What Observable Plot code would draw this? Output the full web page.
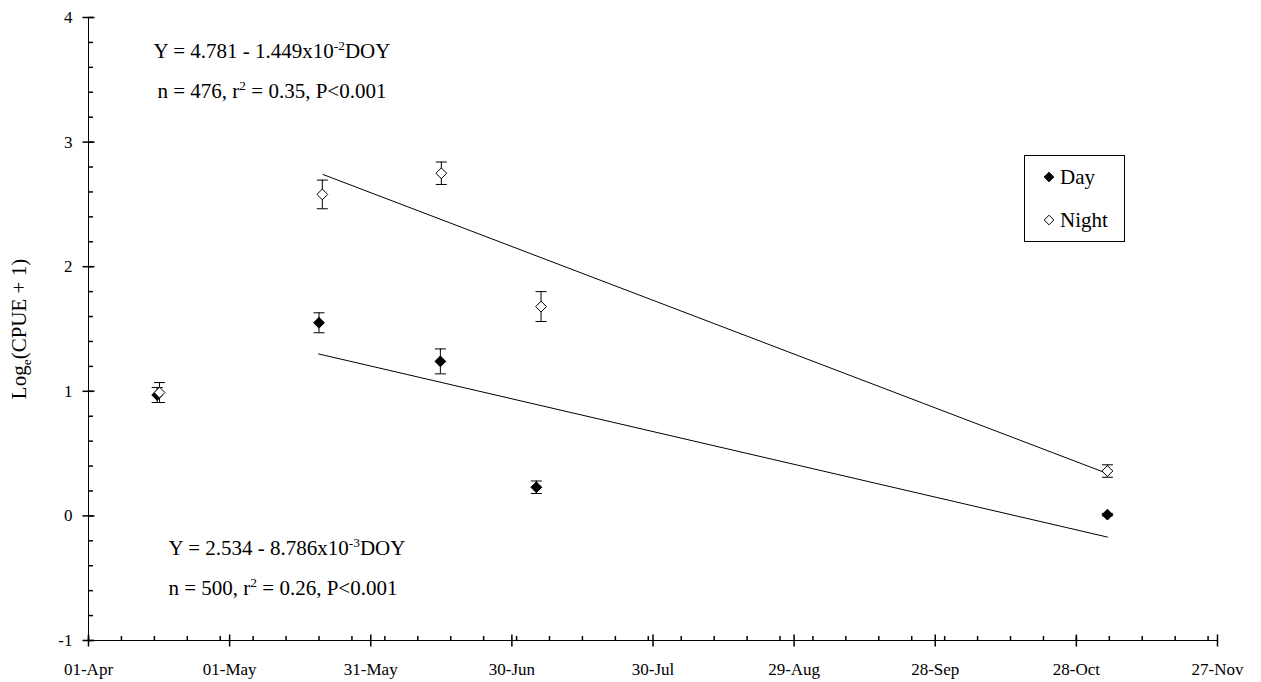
<!DOCTYPE html>
<html><head><meta charset="utf-8">
<script src="https://cdn.jsdelivr.net/npm/d3@7"></script>
<script src="https://cdn.jsdelivr.net/npm/@observablehq/plot@0.6"></script>
<style>html,body{margin:0;padding:0;background:#fff}</style>
</head><body><div id="chart"></div>
<script>
// ---- data (x = day of year) ----
const xTickValues = [91, 121, 151, 181, 211, 241, 271, 301, 331];
const xTickLabels = ["01-Apr", "01-May", "31-May", "30-Jun", "30-Jul", "29-Aug", "28-Sep", "28-Oct", "27-Nov"];
const yTickValues = [-1, 0, 1, 2, 3, 4];
const xMinorStep = 7;
const yMinorStep = 0.2;

const dayDOY = [105.6, 140.0, 165.8, 186.2, 307.6];
const dayMean = [0.97, 1.55, 1.24, 0.23, 0.01];
const daySE = [0.06, 0.08, 0.10, 0.05, 0.01];

const nightDOY = [106.1, 140.7, 166.0, 187.2, 307.6];
const nightMean = [0.99, 2.58, 2.75, 1.68, 0.36];
const nightSE = [0.08, 0.115, 0.09, 0.12, 0.05];

const dayLineDOY = [139.9, 307.6];
const dayLineY = [1.30, -0.17];
const nightLineDOY = [140.85, 307.6];
const nightLineY = [2.74, 0.34];

const nightEq = ["Y = 4.781 - 1.449x10^-2^DOY", "n = 476, r^2^ = 0.35, P<0.001"];
const dayEq = ["Y = 2.534 - 8.786x10^-3^DOY", "n = 500, r^2^ = 0.26, P<0.001"];
const yTitle = "Log_e_(CPUE + 1)";
const seriesNames = ["Day", "Night"];

// ---- build tables ----
const day = dayDOY.map((x, i) => ({x, y: dayMean[i], se: daySE[i]}));
const night = nightDOY.map((x, i) => ({x, y: nightMean[i], se: nightSE[i]}));
const dayLine = dayLineDOY.map((x, i) => ({x, y: dayLineY[i]}));
const nightLine = nightLineDOY.map((x, i) => ({x, y: nightLineY[i]}));
const xMinor = d3.range(xTickValues[0], xTickValues[xTickValues.length - 1] + 0.001, xMinorStep);
const yMinor = d3.range(yTickValues[0], yTickValues[yTickValues.length - 1] + 0.001, yMinorStep);

// ---- custom symbols ----
const hTick = (a, b) => ({draw(ctx) { ctx.moveTo(a, 0); ctx.lineTo(b, 0); }});
const vTick = (a, b) => ({draw(ctx) { ctx.moveTo(0, a); ctx.lineTo(0, b); }});
const diamond = (h) => ({draw(ctx) { ctx.moveTo(0, -h); ctx.lineTo(h, 0); ctx.lineTo(0, h); ctx.lineTo(-h, 0); ctx.closePath(); }});

const X0 = xTickValues[0], Y0 = yTickValues[0];
const errMarks = (data) => [
  Plot.ruleX(data, {x: "x", y1: d => d.y - d.se, y2: d => d.y + d.se, stroke: "black", strokeWidth: 1}),
  Plot.dot(data, {x: "x", y: d => d.y - d.se, symbol: hTick(-5.5, 5.5), stroke: "black", fill: "none", strokeWidth: 1}),
  Plot.dot(data, {x: "x", y: d => d.y + d.se, symbol: hTick(-5.5, 5.5), stroke: "black", fill: "none", strokeWidth: 1})
];
const EQ_FS = 21;

const plot = Plot.plot({
  width: 1261,
  height: 682,
  marginLeft: 88,
  marginRight: 44,
  marginTop: 17,
  marginBottom: 42,
  style: {fontFamily: "'Liberation Serif', 'Times New Roman', serif", fontSize: "17px", color: "black", background: "white"},
  x: {type: "linear", domain: [xTickValues[0], xTickValues[xTickValues.length - 1]], axis: null},
  y: {type: "linear", domain: [yTickValues[0], yTickValues[yTickValues.length - 1]], axis: null},
  marks: [
    // axes
    Plot.ruleX([X0], {stroke: "black", strokeWidth: 1}),
    Plot.ruleY([Y0], {stroke: "black", strokeWidth: 1}),
    Plot.dot(xMinor, {x: d => d, y: () => Y0, symbol: vTick(-4.5, 0), stroke: "black", fill: "none"}),
    Plot.dot(xTickValues, {x: d => d, y: () => Y0, symbol: vTick(-6, 6), stroke: "black", fill: "none"}),
    Plot.dot(yMinor, {x: () => X0, y: d => d, symbol: hTick(0, 4.5), stroke: "black", fill: "none"}),
    Plot.dot(yTickValues, {x: () => X0, y: d => d, symbol: hTick(-6, 6), stroke: "black", fill: "none"}),
    Plot.text(xTickValues, {x: d => d, y: () => Y0, text: (d, i) => xTickLabels[i], dy: 34, lineAnchor: "bottom", textAnchor: "middle", fill: "black"}),
    Plot.text(yTickValues, {x: () => X0, y: d => d, text: d => String(d), dx: -16, textAnchor: "end", lineAnchor: "middle", fill: "black"}),
    Plot.text([yTitle], {frameAnchor: "left", text: d => d, rotate: -90, dx: -69, fontSize: EQ_FS, textAnchor: "middle", lineAnchor: "middle", fill: "black"}),
    // regression lines
    Plot.line(nightLine, {x: "x", y: "y", stroke: "black", strokeWidth: 1}),
    Plot.line(dayLine, {x: "x", y: "y", stroke: "black", strokeWidth: 1}),
    // error bars
    ...errMarks(day),
    ...errMarks(night),
    // points
    Plot.dot(day, {x: "x", y: "y", symbol: diamond(5.4), fill: "black", stroke: "black", strokeWidth: 1}),
    Plot.dot(night, {x: "x", y: "y", symbol: diamond(5.4), fill: "white", stroke: "black", strokeWidth: 1}),
    // equations
    Plot.text([nightEq[0]], {frameAnchor: "top-left", text: d => d, dx: 65, dy: 40, lineAnchor: "bottom", textAnchor: "start", fontSize: EQ_FS, fill: "black"}),
    Plot.text([nightEq[1]], {frameAnchor: "top-left", text: d => d, dx: 69, dy: 80, lineAnchor: "bottom", textAnchor: "start", fontSize: EQ_FS, fill: "black"}),
    Plot.text([dayEq[0]], {frameAnchor: "top-left", text: d => d, dx: 80, dy: 537, lineAnchor: "bottom", textAnchor: "start", fontSize: EQ_FS, fill: "black"}),
    Plot.text([dayEq[1]], {frameAnchor: "top-left", text: d => d, dx: 80, dy: 577, lineAnchor: "bottom", textAnchor: "start", fontSize: EQ_FS, fill: "black"})
  ]
});

document.getElementById("chart").appendChild(plot);
const svg = plot.tagName.toLowerCase() === "svg" ? plot : plot.querySelector("svg");

// rich text: ^sup^ and _sub_
svg.querySelectorAll("text").forEach(t => {
  const s = t.textContent;
  if (!/[\^_]/.test(s)) return;
  const fs = parseFloat(getComputedStyle(t).fontSize) || EQ_FS;
  const parts = [];
  const re = /\^([^^]*)\^|_([^_]*)_/g;
  let last = 0, m;
  while ((m = re.exec(s))) {
    if (m.index > last) parts.push({t: s.slice(last, m.index), k: 0});
    parts.push(m[1] !== undefined ? {t: m[1], k: 1} : {t: m[2], k: -1});
    last = re.lastIndex;
  }
  if (last < s.length) parts.push({t: s.slice(last), k: 0});
  t.textContent = "";
  let cur = 0;
  parts.forEach(p => {
    const ts = document.createElementNS("http://www.w3.org/2000/svg", "tspan");
    const target = p.k === 1 ? -0.36 * fs : p.k === -1 ? 0.22 * fs : 0;
    ts.setAttribute("dy", (target - cur).toFixed(2));
    cur = target;
    if (p.k !== 0) ts.setAttribute("font-size", (0.64 * fs).toFixed(1));
    ts.textContent = p.t;
    t.appendChild(ts);
  });
});

// legend
const lg = d3.select(svg).append("g")
  .attr("font-family", "'Liberation Serif', serif").attr("font-size", EQ_FS).attr("text-anchor", "start");
lg.append("rect").attr("x", 1024.5).attr("y", 155.5).attr("width", 100).attr("height", 86).attr("fill", "white").attr("stroke", "black");
const legendFill = ["black", "white"];
seriesNames.forEach((name, i) => {
  const cy = 177 + i * 43;
  const h = 4.8;
  lg.append("path").attr("d", `M1049,${cy - h}L${1049 + h},${cy}L1049,${cy + h}L${1049 - h},${cy}Z`)
    .attr("fill", legendFill[i]).attr("stroke", "black");
  lg.append("text").attr("x", 1060).attr("y", cy + 7).attr("fill", "black").attr("text-anchor", "start").text(name);
});
</script>
</body></html>
